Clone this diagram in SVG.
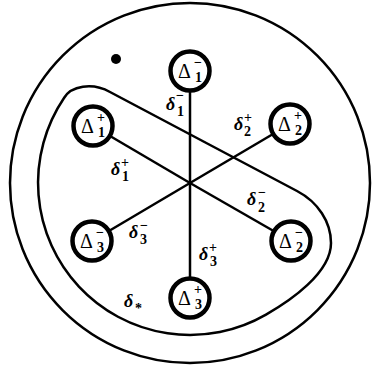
<svg xmlns="http://www.w3.org/2000/svg" width="373" height="366" viewBox="0 0 373 366">
<style>
.ln{stroke:#000;stroke-width:2.5;fill:none}
.nd{fill:#fff;stroke:#000;stroke-width:4.5}
.D{font-family:"Liberation Serif","Times New Roman",serif;font-size:20px;fill:#000}
.s{font-size:14px;font-weight:bold;font-style:normal}
.d{font-family:"Liberation Serif","Times New Roman",serif;font-size:18px;font-style:italic;font-weight:bold;fill:#000}
</style>
<rect width="373" height="366" fill="#fff"/>
<g id="boundary">
<circle class="ln" cx="190" cy="183" r="180"/>
<path class="ln" d="M64,98 C71,86 92,82 110,92 L297,191 C318,202 331,222 331,243 C331,273 290,301 266,314.6 A152,152 0 0 1 64,98 Z"/>
<circle cx="116" cy="59" r="5" fill="#000"/>
</g>
<g id="connectors">
<line class="ln" x1="190" y1="183" x2="190" y2="71"/>
<line class="ln" x1="190" y1="183" x2="290" y2="124"/>
<line class="ln" x1="190" y1="183" x2="93" y2="126"/>
<line class="ln" x1="190" y1="183" x2="92" y2="241"/>
<line class="ln" x1="190" y1="183" x2="291" y2="241"/>
<line class="ln" x1="190" y1="183" x2="190" y2="298"/>
</g>
<g id="n1m"><circle class="nd" cx="190" cy="71" r="19.5"/><text class="D" x="178" y="78">Δ<tspan class="s" x="194" y="67">−</tspan><tspan class="s" x="195" y="82">1</tspan></text></g>
<g id="n2p"><circle class="nd" cx="290" cy="124" r="19.5"/><text class="D" x="278" y="131">Δ<tspan class="s" x="294" y="120">+</tspan><tspan class="s" x="295" y="135">2</tspan></text></g>
<g id="n1p"><circle class="nd" cx="93" cy="126" r="19.5"/><text class="D" x="81" y="133">Δ<tspan class="s" x="97" y="122">+</tspan><tspan class="s" x="98" y="137">1</tspan></text></g>
<g id="n3m"><circle class="nd" cx="92" cy="241" r="19.5"/><text class="D" x="80" y="248">Δ<tspan class="s" x="96" y="237">−</tspan><tspan class="s" x="97" y="252">3</tspan></text></g>
<g id="n2m"><circle class="nd" cx="291" cy="241" r="19.5"/><text class="D" x="279" y="248">Δ<tspan class="s" x="295" y="237">−</tspan><tspan class="s" x="296" y="252">2</tspan></text></g>
<g id="n3p"><circle class="nd" cx="190" cy="298" r="19.5"/><text class="D" x="178" y="305">Δ<tspan class="s" x="194" y="294">+</tspan><tspan class="s" x="195" y="309">3</tspan></text></g>
<g id="labels">
<text class="d" x="166" y="110">δ<tspan class="s" x="176" y="100">−</tspan><tspan class="s" x="177" y="116">1</tspan></text>
<text class="d" x="234" y="130">δ<tspan class="s" x="244" y="122">+</tspan><tspan class="s" x="244" y="136">2</tspan></text>
<text class="d" x="111" y="175">δ<tspan class="s" x="121" y="167">+</tspan><tspan class="s" x="122" y="181">1</tspan></text>
<text class="d" x="247" y="205">δ<tspan class="s" x="258" y="197">−</tspan><tspan class="s" x="258" y="212">2</tspan></text>
<text class="d" x="129" y="238">δ<tspan class="s" x="140" y="230">−</tspan><tspan class="s" x="140" y="244">3</tspan></text>
<text class="d" x="199" y="260">δ<tspan class="s" x="209" y="252">+</tspan><tspan class="s" x="210" y="266">3</tspan></text>
<text class="d" x="124" y="307">δ<tspan class="s" x="135" y="313" font-size="11">*</tspan></text>
</g>
</svg>
